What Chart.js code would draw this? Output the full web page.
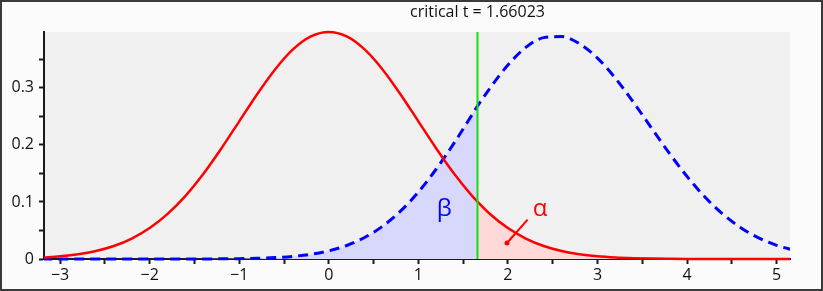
<!DOCTYPE html>
<html>
<head>
<meta charset="utf-8">
<script src="https://cdn.jsdelivr.net/npm/chart.js@4.4.1/dist/chart.umd.min.js"></script>
<style>
  html, body { margin: 0; padding: 0; background: #fff; }
  #frame { width: 823px; height: 291px; box-sizing: border-box; border: 2px solid #3a3a3a; background: #fbfbfb; }
  canvas { display: block; }
</style>
</head>
<body>
<div id="frame"><canvas id="powerChart" width="819" height="287"></canvas></div>
<script>
// t values sampled along the x axis (1.66 added so the shading stops at the critical value)
const tValues = [-3.2, -3.0, -2.8, -2.6, -2.4, -2.2, -2.0, -1.8, -1.6, -1.4, -1.2, -1.0, -0.8, -0.6, -0.4, -0.2,
                 0, 0.2, 0.4, 0.6, 0.8, 1.0, 1.2, 1.4, 1.6, 1.66, 1.8, 2.0, 2.2, 2.4, 2.6, 2.8, 3.0, 3.2,
                 3.4, 3.6, 3.8, 4.0, 4.2, 4.4, 4.6, 4.8, 5.0, 5.2];

// null distribution (red, solid)
const nullDensity = [0.0026, 0.0047, 0.0082, 0.0139, 0.0227, 0.0358, 0.0542, 0.0790, 0.1107, 0.1494, 0.1938, 0.2414, 0.2890, 0.3324, 0.3674, 0.3902,
                     0.3980, 0.3902, 0.3674, 0.3324, 0.2890, 0.2414, 0.1938, 0.1494, 0.1107, 0.1008, 0.0790, 0.0542, 0.0358, 0.0227, 0.0139, 0.0082, 0.0047, 0.0026,
                     0.0014, 0.0007, 0.0004, 0.0002, 0.0001, 0, 0, 0, 0, 0];

// alternative distribution (blue, dashed)
const altDensity = [0, 0, 0, 0, 0, 0, 0, 0, 0.0001, 0.0001, 0.0003, 0.0006, 0.0013, 0.0025, 0.0046, 0.0083,
                    0.0143, 0.0237, 0.0377, 0.0574, 0.0838, 0.1174, 0.1578, 0.2035, 0.2530, 0.2680, 0.2995, 0.3400, 0.3710, 0.3881, 0.3899, 0.3774, 0.3522, 0.3170,
                    0.2752, 0.2304, 0.1860, 0.1448, 0.1087, 0.0787, 0.0550, 0.0370, 0.0240, 0.0151];

const criticalT = 1.66023;
const xTickLabels = [-3, -2, -1, 0, 1, 2, 3, 4, 5];
const yTickLabels = [0, 0.1, 0.2, 0.3];

// annotation anchors, in data units
const betaLabelPos = { x: 1.29, y: 0.075 };
const alphaLabelPos = { x: 2.36, y: 0.075 };
const alphaPointer = [{ x: 1.99, y: 0.028 }, { x: 2.22, y: 0.069 }];

const FONT = "'Open Sans', 'DejaVu Sans', sans-serif";
const AXIS_COLOR = '#1a1a1a';

const toPoints = (ys) => tValues.map((x, i) => ({ x: x, y: ys[i] }));
const nullPoints = toPoints(nullDensity);
const altPoints = toPoints(altDensity);
const alphaArea = nullPoints.filter(p => p.x >= 1.66);
const betaArea = altPoints.filter(p => p.x <= 1.66);

const isLabelled = (list, v) => list.some(t => Math.abs(t - v) < 1e-6);
const fmt = (v) => {
    const r = Math.round(v * 10) / 10;
    if (r === 0) return '0';
    return (r < 0 ? '\u2212' : '') + String(Math.abs(r));
};

const plotDecor = {
    id: 'plotDecor',
    beforeDraw(chart) {
        const { ctx, chartArea: a } = chart;
        ctx.save();
        ctx.fillStyle = '#f0f0f0';
        ctx.fillRect(a.left, a.top, a.right - a.left, a.bottom - a.top);
        ctx.restore();
    },
    afterDatasetsDraw(chart) {
        const { ctx, chartArea: a, scales } = chart;
        const xs = scales.x, ys = scales.y;
        const cx = xs.getPixelForValue(criticalT);

        ctx.save();
        // critical value line
        ctx.strokeStyle = '#10e010';
        ctx.lineWidth = 2;
        ctx.beginPath();
        ctx.moveTo(cx, a.top);
        ctx.lineTo(cx, a.bottom);
        ctx.stroke();

        // title over the line
        ctx.fillStyle = '#111';
        ctx.font = '16px ' + FONT;
        ctx.textAlign = 'center';
        ctx.textBaseline = 'alphabetic';
        ctx.fillText('critical t = ' + criticalT, cx, 15);

        // beta / alpha labels
        ctx.font = '24px ' + FONT;
        ctx.fillStyle = '#0000ff';
        ctx.fillText('\u03b2', xs.getPixelForValue(betaLabelPos.x), ys.getPixelForValue(betaLabelPos.y));
        ctx.fillStyle = '#ff0000';
        ctx.fillText('\u03b1', xs.getPixelForValue(alphaLabelPos.x), ys.getPixelForValue(alphaLabelPos.y));
        ctx.restore();
    }
};

const ctx = document.getElementById('powerChart').getContext('2d');

let chart = new Chart(ctx, {
    type: 'line',
    data: {
        datasets: [
            {
                label: 'pointer',
                data: alphaPointer,
                borderColor: '#ff0000',
                borderWidth: 2,
                pointRadius: [2.5, 0],
                pointBackgroundColor: '#ff0000',
                pointBorderWidth: 0,
                order: 0
            },
            {
                label: 'null',
                data: nullPoints,
                borderColor: '#ff0000',
                borderWidth: 2.5,
                pointRadius: 0,
                cubicInterpolationMode: 'monotone',
                clip: { left: 0, right: 0, top: 5, bottom: 5 },
                order: 1
            },
            {
                label: 'alternative',
                data: altPoints,
                borderColor: '#0000ff',
                borderWidth: 3,
                borderDash: [10, 6],
                pointRadius: 0,
                cubicInterpolationMode: 'monotone',
                clip: { left: 0, right: 0, top: 5, bottom: 5 },
                order: 2
            },
            {
                label: 'alpha',
                data: alphaArea,
                borderWidth: 0,
                backgroundColor: '#ffd8d8',
                fill: 'origin',
                pointRadius: 0,
                cubicInterpolationMode: 'monotone',
                clip: 0,
                order: 5
            },
            {
                label: 'beta',
                data: betaArea,
                borderWidth: 0,
                backgroundColor: '#d8d8fc',
                fill: 'origin',
                pointRadius: 0,
                cubicInterpolationMode: 'monotone',
                clip: 0,
                order: 5
            }
        ]
    },
    options: {
        responsive: false,
        animation: false,
        layout: {
            padding: { top: 30, right: 31, left: 0, bottom: 0 }
        },
        scales: {
            x: {
                type: 'linear',
                min: -3.18,
                max: 5.15,
                z: 1,
                border: { color: AXIS_COLOR, width: 2 },
                grid: { drawOnChartArea: false, drawTicks: true, tickLength: 5, tickWidth: 2, tickColor: AXIS_COLOR },
                ticks: {
                    stepSize: 0.5,
                    includeBounds: false,
                    autoSkip: false,
                    maxRotation: 0,
                    padding: 2,
                    color: '#111',
                    font: { family: FONT, size: 16 },
                    callback: (v) => isLabelled(xTickLabels, v) ? fmt(v) : ''
                },
                afterFit: (s) => { s.height = 30; }
            },
            y: {
                min: 0,
                max: 0.398,
                z: 1,
                border: { color: AXIS_COLOR, width: 2 },
                grid: { drawOnChartArea: false, drawTicks: true, tickLength: 5, tickWidth: 2, tickColor: AXIS_COLOR },
                ticks: {
                    stepSize: 0.05,
                    includeBounds: false,
                    autoSkip: false,
                    padding: 5,
                    color: '#111',
                    font: { family: FONT, size: 16 },
                    callback: (v) => isLabelled(yTickLabels, v) ? fmt(v) : ''
                },
                afterFit: (s) => { s.width = 42; }
            }
        },
        plugins: {
            legend: { display: false },
            tooltip: { enabled: false }
        }
    },
    plugins: [plotDecor]
});
</script>
</body>
</html>
